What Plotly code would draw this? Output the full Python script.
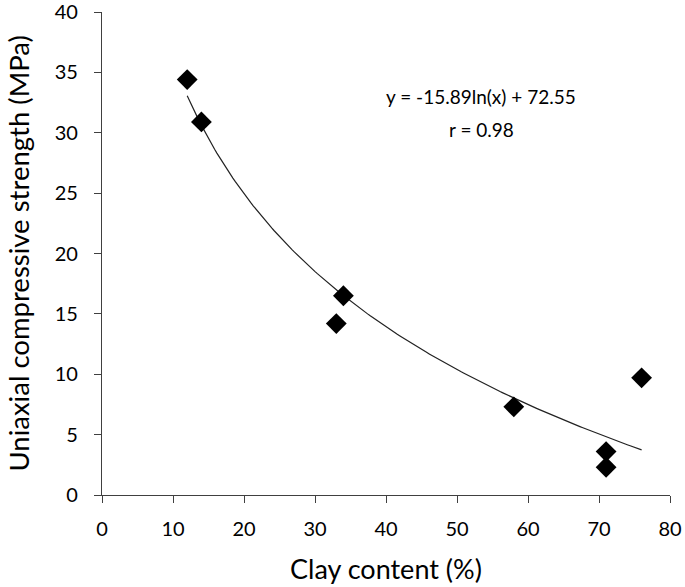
import numpy as np
import plotly.graph_objects as go

# Measured points: clay content (%) vs UCS (MPa)
clay_content = [12, 14, 33, 34, 58, 71, 71, 76]
ucs_mpa = [34.4, 30.9, 14.2, 16.5, 7.3, 3.6, 2.3, 9.7]

# Logarithmic trend line shown on the chart: y = a*ln(x) + b
fit_a = -15.89
fit_b = 72.55
fit_range = [12, 76]

x_ticks = [0, 10, 20, 30, 40, 50, 60, 70, 80]
y_ticks = [0, 5, 10, 15, 20, 25, 30, 35, 40]

FONT = "Lato"
AXIS_COLOR = "#404040"

fit_x = np.linspace(fit_range[0], fit_range[1], 200)
fit_y = fit_a * np.log(fit_x) + fit_b

fig = go.Figure()

fig.add_trace(
    go.Scatter(
        x=fit_x,
        y=fit_y,
        mode="lines",
        line=dict(color="#222222", width=1.2),
        hoverinfo="skip",
        cliponaxis=False,
    )
)

fig.add_trace(
    go.Scatter(
        x=clay_content,
        y=ucs_mpa,
        mode="markers",
        marker=dict(symbol="diamond", size=16, color="black"),
        hovertemplate="Clay: %{x}%<br>UCS: %{y} MPa<extra></extra>",
        cliponaxis=False,
    )
)

fig.add_annotation(
    x=53.4, y=33.0, xref="x", yref="y",
    text="y = -15.89ln(x) + 72.55",
    showarrow=False,
    font=dict(family=FONT, size=19, color="black"),
)
fig.add_annotation(
    x=53.4, y=30.3, xref="x", yref="y",
    text="r = 0.98",
    showarrow=False,
    font=dict(family=FONT, size=19, color="black"),
)

# axis titles as annotations so the plot area stays where it is
fig.add_annotation(
    x=0.5, y=0, xref="paper", yref="paper",
    yshift=-73, yanchor="middle",
    text="Clay content (%)",
    showarrow=False,
    font=dict(family=FONT, size=27, color="black"),
)
fig.add_annotation(
    x=0, y=0.5, xref="paper", yref="paper",
    xshift=-84, xanchor="center",
    text="Uniaxial compressive strength (MPa)",
    textangle=-90,
    showarrow=False,
    font=dict(family=FONT, size=27.5, color="black"),
)

fig.update_layout(
    width=685,
    height=587,
    paper_bgcolor="white",
    plot_bgcolor="white",
    showlegend=False,
    font=dict(family=FONT, color="black", size=20),
    margin=dict(l=102, r=15, t=12, b=92),
    xaxis=dict(
        range=[0, 80],
        tickvals=x_ticks,
        ticks="outside",
        ticklen=7,
        tickcolor=AXIS_COLOR,
        ticklabelstandoff=9,
        ticklabeloverflow="allow",
        showline=True,
        linecolor=AXIS_COLOR,
        linewidth=1.2,
        showgrid=False,
        zeroline=False,
        automargin=False,
        fixedrange=True,
    ),
    yaxis=dict(
        range=[0, 40],
        tickvals=y_ticks,
        ticks="outside",
        ticklen=7,
        tickcolor=AXIS_COLOR,
        ticklabelstandoff=12,
        ticklabeloverflow="allow",
        showline=True,
        linecolor=AXIS_COLOR,
        linewidth=1.2,
        showgrid=False,
        zeroline=False,
        automargin=False,
        fixedrange=True,
    ),
)

# drop the default page margin so the figure fills the window exactly
fig.write_html(
    "out.html",
    config={"displayModeBar": False},
    post_script="document.body.style.margin='0';",
)
